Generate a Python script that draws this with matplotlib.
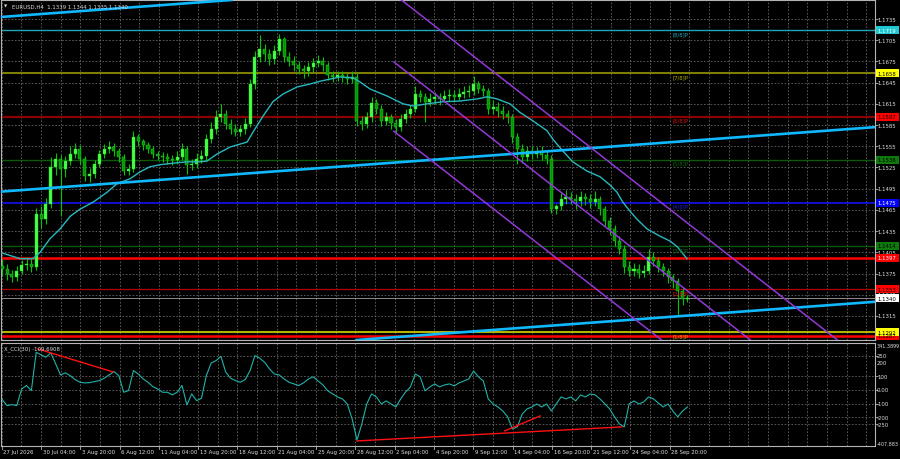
import matplotlib
matplotlib.use("Agg")
import matplotlib.pyplot as plt
from matplotlib.patches import Rectangle
from matplotlib.transforms import blended_transform_factory as btf
import numpy as np

plt.rcParams['font.family'] = ['DejaVu Sans']

# ---------------- data (8-hour candles, EURUSD) ----------------
opens = [
 1.1386,1.1381,1.1374,1.1370,1.1379,1.1387,1.1389,1.1384,1.1459,1.1452,
 1.1473,1.1526,1.1537,1.1523,1.1534,1.1544,1.1551,1.1537,1.1513,1.1516,
 1.1530,1.1544,1.1551,1.1554,1.1548,1.1540,1.1520,1.1523,1.1568,1.1562,
 1.1557,1.1551,1.1544,1.1541,1.1540,1.1537,1.1536,1.1540,1.1551,1.1529,
 1.1530,1.1537,1.1541,1.1565,1.1579,1.1596,1.1601,1.1587,1.1579,1.1575,
 1.1579,1.1587,1.1643,1.1681,1.1693,1.1686,1.1678,1.1690,1.1707,1.1681,
 1.1676,1.1670,1.1664,1.1661,1.1667,1.1673,1.1676,1.1670,1.1656,1.1653,
 1.1656,1.1653,1.1650,1.1653,1.1591,1.1587,1.1596,1.1616,1.1608,1.1591,
 1.1596,1.1588,1.1582,1.1594,1.1601,1.1608,1.1629,1.1625,1.1618,1.1622,
 1.1625,1.1622,1.1626,1.1628,1.1625,1.1629,1.1632,1.1633,1.1643,1.1636,
 1.1633,1.1608,1.1611,1.1605,1.1601,1.1596,1.1568,1.1551,1.1540,1.1548,
 1.1544,1.1547,1.1543,1.1537,1.1466,1.1471,1.1480,1.1483,1.1480,1.1478,
 1.1483,1.1480,1.1476,1.1480,1.1466,1.1449,1.1438,1.1421,1.1410,1.1384,
 1.1379,1.1381,1.1376,1.1379,1.1398,1.1393,1.1384,1.1379,1.1370,1.1364,
 1.1350,1.1339]
closes = [
 1.1381,1.1374,1.1370,1.1379,1.1387,1.1389,1.1384,1.1459,1.1452,1.1473,
 1.1526,1.1537,1.1523,1.1534,1.1544,1.1551,1.1537,1.1513,1.1516,1.1530,
 1.1544,1.1551,1.1554,1.1548,1.1540,1.1520,1.1523,1.1568,1.1562,1.1557,
 1.1551,1.1544,1.1541,1.1540,1.1537,1.1536,1.1540,1.1551,1.1529,1.1530,
 1.1537,1.1541,1.1565,1.1579,1.1596,1.1601,1.1587,1.1579,1.1575,1.1579,
 1.1587,1.1643,1.1681,1.1693,1.1686,1.1678,1.1690,1.1707,1.1681,1.1676,
 1.1670,1.1664,1.1661,1.1667,1.1673,1.1676,1.1670,1.1656,1.1653,1.1656,
 1.1653,1.1650,1.1653,1.1591,1.1587,1.1596,1.1616,1.1608,1.1591,1.1596,
 1.1588,1.1582,1.1594,1.1601,1.1608,1.1629,1.1625,1.1618,1.1622,1.1625,
 1.1622,1.1626,1.1628,1.1625,1.1629,1.1632,1.1633,1.1643,1.1636,1.1633,
 1.1608,1.1611,1.1605,1.1601,1.1596,1.1568,1.1551,1.1540,1.1548,1.1544,
 1.1547,1.1543,1.1537,1.1466,1.1471,1.1480,1.1483,1.1480,1.1478,1.1483,
 1.1480,1.1476,1.1480,1.1466,1.1449,1.1438,1.1421,1.1410,1.1384,1.1379,
 1.1381,1.1376,1.1379,1.1398,1.1393,1.1384,1.1379,1.1370,1.1364,1.1350,
 1.1339,1.1340]
highs = [
 1.1395,1.1388,1.1380,1.1386,1.1394,1.1398,1.1396,1.1468,1.1470,1.1482,
 1.1540,1.1546,1.1542,1.1541,1.1555,1.1560,1.1557,1.1541,1.1524,1.1536,
 1.1550,1.1558,1.1562,1.1560,1.1553,1.1544,1.1530,1.1576,1.1573,1.1566,
 1.1561,1.1555,1.1549,1.1547,1.1545,1.1543,1.1548,1.1560,1.1555,1.1537,
 1.1545,1.1550,1.1572,1.1590,1.1606,1.1615,1.1606,1.1593,1.1586,1.1585,
 1.1595,1.1650,1.1690,1.1712,1.1700,1.1692,1.1698,1.1714,1.1710,1.1688,
 1.1683,1.1675,1.1670,1.1674,1.1680,1.1684,1.1681,1.1674,1.1662,1.1662,
 1.1661,1.1659,1.1662,1.1658,1.1598,1.1604,1.1624,1.1622,1.1613,1.1603,
 1.1600,1.1594,1.1600,1.1608,1.1614,1.1640,1.1635,1.1630,1.1630,1.1632,
 1.1630,1.1634,1.1636,1.1634,1.1637,1.1640,1.1642,1.1655,1.1648,1.1642,
 1.1638,1.1620,1.1618,1.1612,1.1606,1.1600,1.1574,1.1558,1.1556,1.1555,
 1.1554,1.1556,1.1549,1.1542,1.1474,1.1490,1.1493,1.1490,1.1487,1.1492,
 1.1489,1.1487,1.1492,1.1485,1.1470,1.1455,1.1444,1.1428,1.1415,1.1393,
 1.1390,1.1388,1.1387,1.1410,1.1405,1.1398,1.1390,1.1383,1.1375,1.1368,
 1.1355,1.1344]
lows = [
 1.1372,1.1366,1.1363,1.1365,1.1374,1.1380,1.1377,1.1380,1.1440,1.1445,
 1.1468,1.1515,1.1456,1.1512,1.1528,1.1538,1.1530,1.1506,1.1505,1.1510,
 1.1525,1.1538,1.1545,1.1541,1.1533,1.1514,1.1515,1.1519,1.1555,1.1550,
 1.1545,1.1538,1.1535,1.1533,1.1530,1.1529,1.1530,1.1535,1.1516,1.1522,
 1.1524,1.1531,1.1536,1.1560,1.1572,1.1590,1.1580,1.1572,1.1569,1.1570,
 1.1573,1.1582,1.1636,1.1674,1.1676,1.1670,1.1672,1.1684,1.1674,1.1668,
 1.1662,1.1657,1.1652,1.1655,1.1660,1.1667,1.1662,1.1649,1.1646,1.1647,
 1.1646,1.1643,1.1644,1.1583,1.1578,1.1581,1.1590,1.1600,1.1584,1.1585,
 1.1579,1.1575,1.1577,1.1588,1.1595,1.1604,1.1617,1.1589,1.1612,1.1615,
 1.1614,1.1617,1.1619,1.1618,1.1620,1.1623,1.1625,1.1628,1.1630,1.1626,
 1.1600,1.1601,1.1597,1.1594,1.1588,1.1560,1.1530,1.1532,1.1534,1.1537,
 1.1538,1.1536,1.1530,1.1460,1.1459,1.1465,1.1474,1.1473,1.1466,1.1471,
 1.1472,1.1468,1.1470,1.1458,1.1442,1.1430,1.1414,1.1402,1.1376,1.1371,
 1.1372,1.1368,1.1370,1.1374,1.1386,1.1377,1.1372,1.1362,1.1355,1.1316,
 1.1330,1.1335]

# moving average (cyan) - candle index / value
ma_idx = [0,3.7,6.3,7.8,9.8,11.9,14.0,16.0,18.7,21.6,23.6,26.3,28.4,30.4,32.5,
          35.1,38.0,40.7,42.1,44.2,46.9,50.4,51.6,53.7,55.7,57.8,60.7,63.3,65.4,69.5,
          72.2,73.6,75.7,79.2,82.5,84.5,87.4,90.7,94.2,97.7,99.8,101.8,104.5,106.5,109.2,
          112.1,113.3,115.4,117.4,120.3,123.0,125.1,126.5,127.7,129.2,130.6,132.7,135.3,
          137.4,138.9,140.9]
ma_val = [1.1404,1.1396,1.1396,1.1405,1.1424,1.1438,1.1456,1.1466,1.1476,1.1490,
          1.1502,1.1509,1.1519,1.1526,1.1529,1.1531,1.1533,1.1533,1.1534,1.1544,
          1.1554,1.1561,1.1575,1.1598,1.1618,1.1629,1.1639,1.1643,1.1647,1.1653,
          1.1652,1.1646,1.1636,1.1626,1.1615,1.1612,1.1615,1.1618,1.1619,1.1622,
          1.1625,1.1622,1.1615,1.1603,1.1591,1.1577,1.1565,1.1548,1.1533,1.1520,
          1.1512,1.1500,1.1490,1.1476,1.1463,1.1452,1.1438,1.1428,1.1421,1.1413,
          1.1396]

# CCI(30), one value per candle
cci = [-70,-114,-107,-114,7,32,-5,274,255,238,
       270,189,109,124,104,75,56,51,53,61,
       68,85,109,133,104,-17,-5,141,116,80,
       56,24,7,-17,-17,-36,-17,32,-109,-29,
       -78,-61,104,196,213,245,129,85,68,56,
       75,141,250,230,201,153,116,109,80,56,
       44,32,51,80,95,65,36,-7,-29,-51,
       -65,-102,-211,-364,-247,-102,-29,-51,-102,-80,
       -102,-124,-65,-15,22,116,95,-7,22,44,
       22,36,44,29,51,65,80,138,95,65,
       -65,-102,-124,-153,-196,-284,-269,-175,-138,-124,
       -102,-124,-102,-153,-102,-51,-65,-51,-80,-36,
       -51,-29,-36,-65,-102,-138,-196,-247,-269,-102,
       -80,-102,-87,-51,-65,-95,-124,-102,-153,-196,
       -153,-124]
cci_max, cci_min = 341.3899, -407.883
cci_ticks = [250, 200, 100, 0, -100, -200, -250]
cci_grid = [250, 100, 0, -100, -200, -250]
cci_div_x = [[7.37, 22.8], [73.0, 127.5], [103.4, 110.7]]
cci_div_y = [[298, 131], [-371, -269], [-298, -189]]

# Murrey math levels
mm_levels = [1.1719, 1.1658, 1.1597, 1.1536, 1.1475, 1.1414, 1.1353, 1.1292]
mm_names = ['[8/8]P', '[7/8]P', '[6/8]P', '[5/8]P', '[4/8]P', '[3/8]P', '[2/8]P', '[1/8]P']
mm_colors = ['#22A8B4', '#8C8C00', '#8B0000', '#0A5A0A', '#1010D0', '#0A5A0A', '#B00000', '#C8C800']
mm_text_colors = ['#22A8B4', '#A8A800', '#D01010', '#116611', '#1E1ED8', '#116611', '#D01010', '#D8A000']
mm_lw = [1.0, 1.3, 1.6, 1.0, 1.4, 1.0, 0.9, 1.3]
red_levels = [1.1397, 1.1287]
current_price = 1.1340

# trend lines: two anchor points (candle idx, price)
blue_x = [0, 140]
blue_lines = [[1.1738, 1.1809], [1.1491, 1.1562], [1.1244, 1.1315]]
chan_x = [80.6, 140.0]
chan_lines = [[1.17702, 1.14518], [1.16742, 1.13558], [1.15762, 1.12578]]

price_ticks = [1.1735, 1.1705, 1.1675, 1.1645, 1.1615, 1.1585, 1.1555, 1.1525,
               1.1495, 1.1465, 1.1435, 1.1405, 1.1375, 1.1345, 1.1315]
box_prices = [1.1719, 1.1658, 1.1597, 1.1536, 1.1475, 1.1414, 1.1397, 1.1287, 1.1353, 1.1340, 1.1292]
box_bg = ['#1EC8D2', '#FFFF00', '#FF0000', '#0E7A0E', '#0000FF', '#0E7A0E', '#FF0000', '#FF0000', '#FF0000', '#FFFFFF', '#FFFF00']
box_fg = ['white', 'black', 'black', 'black', 'white', 'black', 'white', 'black', 'black', 'black', 'black']

x_labels = ['27 Jul 2026', '30 Jul 04:00', '3 Aug 20:00', '6 Aug 12:00', '11 Aug 04:00',
            '13 Aug 20:00', '18 Aug 12:00', '21 Aug 04:00', '25 Aug 20:00', '28 Aug 12:00',
            '2 Sep 04:00', '4 Sep 20:00', '9 Sep 12:00', '14 Sep 04:00', '16 Sep 20:00',
            '21 Sep 12:00', '24 Sep 04:00', '28 Sep 20:00']
title = 'EURUSD,H4  1.1339 1.1344 1.1335 1.1340'
cci_title = 'X_CCI(30) -109.6908'

# ---------------- layout ----------------
W, H = 900, 460
FS = 3.9
GRID = dict(color='#6E6E6E', lw=0.55, dashes=(2.2, 2.2))
fig = plt.figure(figsize=(9, 4.6), dpi=100, facecolor='black')
L, R = 1 / W, 875 / W
ax = fig.add_axes([L, 1 - 341 / H, R - L, 340 / H], facecolor='black')
ax2 = fig.add_axes([L, 1 - 447 / H, R - L, 103 / H], facecolor='black')

XMIN, XMAX = -0.247, 179.59
for a in (ax, ax2):
    a.set_xlim(XMIN, XMAX)
    for s in a.spines.values():
        s.set_color('#B4B4B4')
        s.set_linewidth(0.8)
    a.set_axisbelow(True)
ax.set_ylim(1.12810, 1.17619)
ax2.set_ylim(cci_min, cci_max)

# vertical grid every 8 H4 bars, labels every 16
px_per_k = 4.86
grid_k = [(1.7 + 19.65 * n - 2.2) / px_per_k for n in range(45)]
label_k = grid_k[0:2 * len(x_labels):2]
for a in (ax, ax2):
    a.set_xticks(grid_k)
    a.tick_params(axis='x', length=0, labelbottom=False)
    a.grid(True, axis='x', **GRID)
ax.set_yticks(price_ticks)
ax.grid(True, axis='y', **GRID)
ax.tick_params(axis='y', left=False, labelleft=False, right=True, length=2, color='#B4B4B4', width=0.6)
ax2.set_yticks(cci_grid)
ax2.grid(True, axis='y', **GRID)
ax2.tick_params(axis='y', left=False, labelleft=False, right=True, length=2, color='#B4B4B4', width=0.6)

# ---------------- price panel ----------------
o = np.array(opens); c = np.array(closes); h = np.array(highs); lo = np.array(lows)
x = np.arange(len(c))
up = c >= o
ax.vlines(x, lo, h, color='#00C800', lw=0.8, zorder=4)
ax.bar(x[up], (c - o)[up], bottom=o[up], width=0.62, color='#48FF48',
       edgecolor='#20E020', lw=0.3, zorder=5)
ax.bar(x[~up], (o - c)[~up], bottom=c[~up], width=0.62, color='#009A00',
       edgecolor='#30D030', lw=0.3, zorder=5)

ax.plot(ma_idx, ma_val, color='#28B8C0', lw=1.0, zorder=6)

for lev, col, lw in zip(mm_levels, mm_colors, mm_lw):
    ax.axhline(lev, color=col, lw=lw, zorder=2)
for lev in red_levels:
    ax.axhline(lev, color='#FF0000', lw=1.8, zorder=2)
ax.axhline(current_price, color='#8C8C8C', lw=0.7, zorder=2)

for pr in blue_lines:
    ax.axline((blue_x[0], pr[0]), (blue_x[1], pr[1]), color='#10B8FF', lw=1.9, zorder=7)
for pr in chan_lines:
    slope = (pr[1] - pr[0]) / (chan_x[1] - chan_x[0])
    ax.plot([chan_x[0], XMAX + 5], [pr[0], pr[0] + slope * (XMAX + 5 - chan_x[0])],
            color='#9238D8', lw=1.1, zorder=7)

for lev, name, tc in zip(mm_levels, mm_names, mm_text_colors):
    ax.text(138.0, lev - 0.00012, name, color=tc, fontsize=FS, va='top', ha='left', zorder=8)

# right axis labels
tr = btf(fig.transFigure, ax.transData)
for p in price_ticks:
    ax.text(877 / W, p, f'{p:.4f}', transform=tr, fontsize=FS, color='#DCDCDC',
            va='center', ha='left', clip_on=False, zorder=9)
hh = 4.0 / 7071
for p, bg, fg in zip(box_prices, box_bg, box_fg):
    ax.add_patch(Rectangle((876 / W, p - hh), 23 / W, 2 * hh, transform=tr, facecolor=bg,
                           edgecolor='none', clip_on=False, zorder=10))
    ax.text(877.5 / W, p, f'{p:.4f}', transform=tr, fontsize=FS, color=fg,
            va='center', ha='left', clip_on=False, zorder=11)

fig.text(4 / W, 1 - 7 / H, '\u25BC', fontsize=3.0, color='#DCDCDC', va='center', ha='left')
fig.text(12 / W, 1 - 7 / H, title, fontsize=FS, color='#DCDCDC', va='center', ha='left')

# ---------------- CCI panel ----------------
ax2.plot(np.arange(len(cci)), cci, color='#20B2AA', lw=0.8, zorder=4)
for xs, ys in zip(cci_div_x, cci_div_y):
    ax2.plot(xs, ys, color='#FF1010', lw=1.0, zorder=5)
tr2 = btf(fig.transFigure, ax2.transData)
ax2.text(876.5 / W, cci_max, f'{cci_max:.4f}', transform=tr2, fontsize=3.5, color='#DCDCDC',
         va='top', ha='left', clip_on=False)
ax2.text(876.5 / W, cci_min, f'{cci_min:.3f}', transform=tr2, fontsize=3.5, color='#DCDCDC',
         va='bottom', ha='left', clip_on=False)
for v in cci_ticks:
    ax2.text(877 / W, v, '0.00' if v == 0 else str(v), transform=tr2, fontsize=FS,
             color='#DCDCDC', va='center', ha='left', clip_on=False)
fig.text(4 / W, 1 - 349 / H, cci_title, fontsize=FS, color='#DCDCDC', va='center', ha='left')

# x labels
trx = btf(ax2.transData, fig.transFigure)
for k, lab in zip(label_k, x_labels):
    ax2.text(k + 0.35, 1 - 453 / H, lab, transform=trx, fontsize=FS, color='#DCDCDC',
             va='center', ha='left', clip_on=False)
    ax2.plot([k, k], [1 - 447 / H, 1 - 450 / H], transform=trx, color='#B4B4B4', lw=0.6,
             clip_on=False)

fig.savefig('out.png', dpi=100, facecolor='black')
